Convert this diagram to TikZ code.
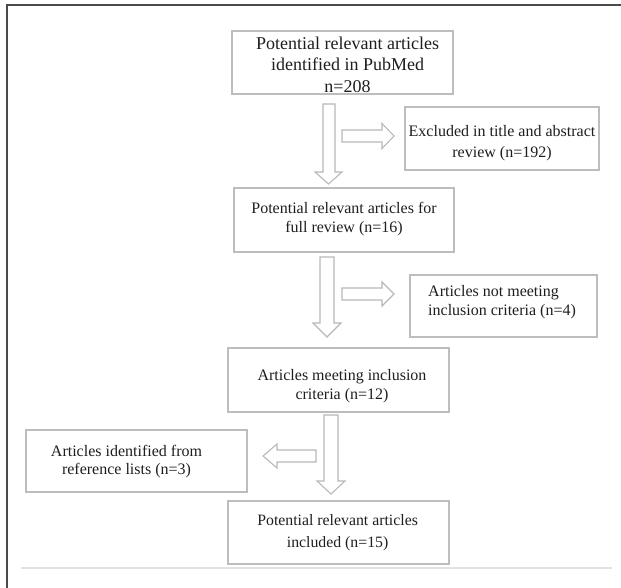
\documentclass[tikz,border=0pt]{standalone}
\usepackage{fontspec}
\setmainfont{Liberation Serif}
\definecolor{boxgray}{HTML}{BDBDBD}
\definecolor{arrgray}{HTML}{B8B8B8}
\definecolor{framegray}{HTML}{4A4A4A}
\definecolor{rulegray}{HTML}{E2E2E2}
\definecolor{txtcol}{HTML}{1E1E1E}
\begin{document}
\begin{tikzpicture}[x=1pt,y=-1pt,
  box/.style={draw=boxgray, line width=1.1pt, inner sep=0pt},
  txt/.style={inner sep=0pt, align=center, text=txtcol, font=\fontsize{16}{19}\selectfont},
  blk/.style={draw=arrgray, line width=1.1pt, fill=white, line join=miter}]
\useasboundingbox (0,0) rectangle (621,588);
% frame
\draw[framegray, line width=1.6pt] (6.5,5) -- (621,5);
\draw[framegray, line width=2pt] (6.5,4.2) -- (6.5,588);
\draw[rulegray, line width=1.5pt] (21,568) -- (612,568);
% boxes
\node[box, minimum width=221pt, minimum height=63pt] (b1) at (342.5,62.5) {};
\node[box, minimum width=194pt, minimum height=63pt] (ex1) at (502,138.5) {};
\node[box, minimum width=220pt, minimum height=64pt] (b2) at (344,220) {};
\node[box, minimum width=187pt, minimum height=62pt] (ex2) at (503.5,306) {};
\node[box, minimum width=221pt, minimum height=64pt] (b3) at (338.5,380) {};
\node[box, minimum width=221pt, minimum height=62pt] (ad) at (136.5,461) {};
\node[box, minimum width=221pt, minimum height=63pt] (b4) at (338.5,532.5) {};
% texts
\node[txt, font=\fontsize{18}{21.5}\selectfont] (t1) at (347.5,64.4) {Potential relevant articles\\identified in PubMed\\n=208};
\node[txt, font=\fontsize{16}{21}\selectfont] (tex1) at (502,142.8) {Excluded in title and abstract\\review (n=192)};
\node[txt] (t2) at (344,218.8) {Potential relevant articles for\\full review (n=16)};
\node[txt, align=left, anchor=west] (tex2) at (428,301.8) {Articles not meeting\\inclusion criteria (n=4)};
\node[txt] (t3) at (342,385.8) {Articles meeting inclusion\\criteria (n=12)};
\node[txt, font=\fontsize{16}{18}\selectfont] (tad) at (126.5,462) {Articles identified from\\reference lists (n=3)};
\node[txt, font=\fontsize{15.8}{22}\selectfont] (t4) at (337.6,533) {Potential relevant articles\\included (n=15)};
% block arrows
\draw[blk] (323,104) -- (335,104) -- (335,172) -- (342,172) -- (328.5,184) -- (315,172) -- (323,172) -- cycle;
\draw[blk] (342,130) -- (382,130) -- (382,123.5) -- (394,136) -- (382,148.5) -- (382,142) -- (342,142) -- cycle;
\draw[blk] (320,257) -- (334,257) -- (334,323) -- (341,323) -- (327,337) -- (313,323) -- (320,323) -- cycle;
\draw[blk] (342,288) -- (382,288) -- (382,282) -- (394,294) -- (382,306) -- (382,300) -- (342,300) -- cycle;
\draw[blk] (324,415) -- (338,415) -- (338,481) -- (345,481) -- (331,494) -- (317,481) -- (324,481) -- cycle;
\draw[blk] (316,450) -- (277,450) -- (277,444) -- (263,456) -- (277,468) -- (277,462) -- (316,462) -- cycle;
\end{tikzpicture}
\end{document}
